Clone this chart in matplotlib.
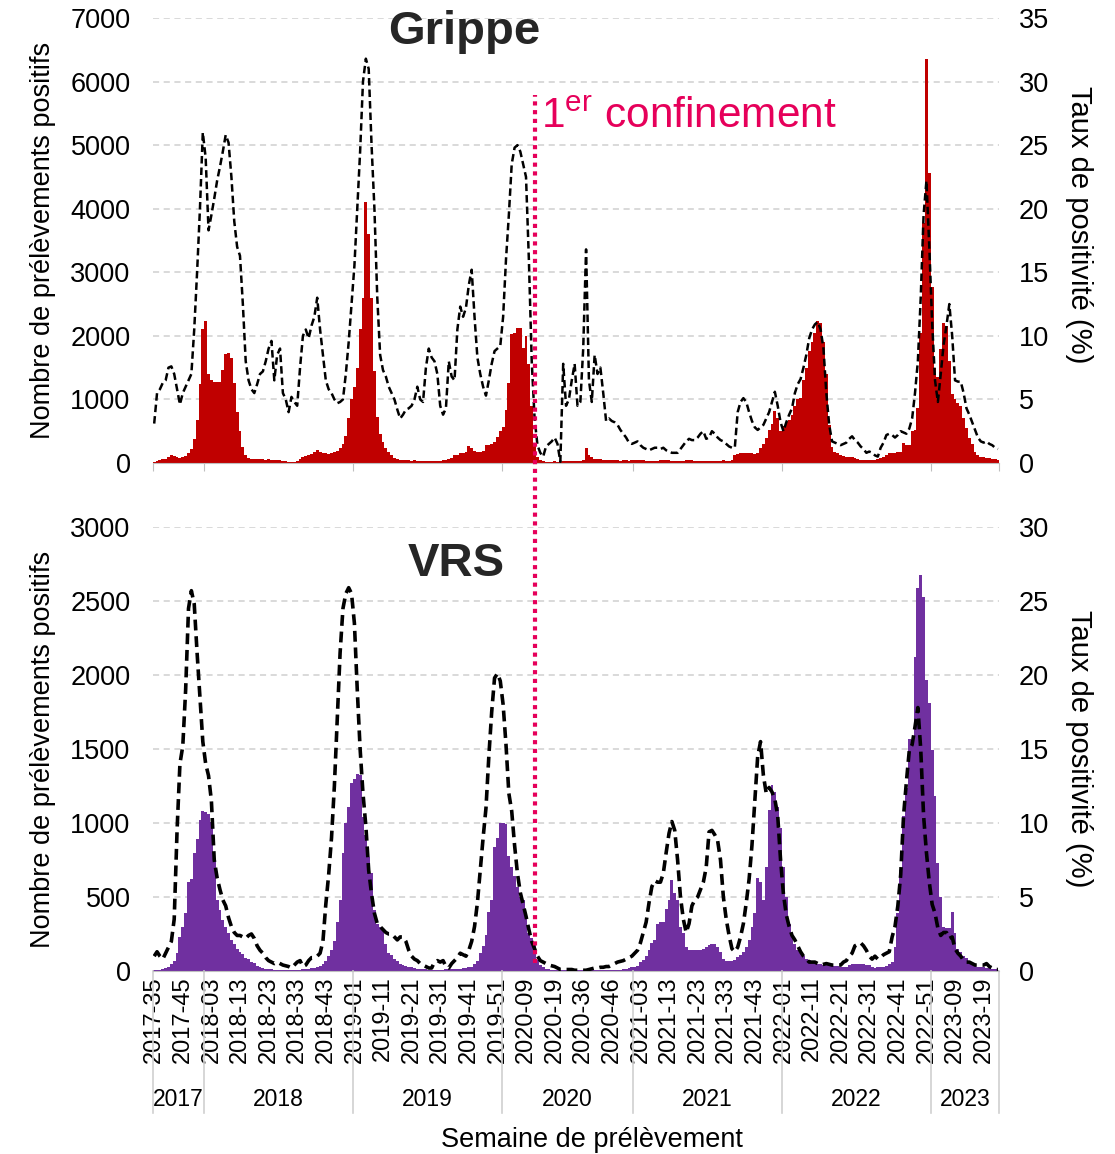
import matplotlib
matplotlib.use('Agg')
import matplotlib.pyplot as plt
import matplotlib.transforms as mtransforms
from matplotlib.lines import Line2D
import numpy as np

plt.rcParams['font.family'] = ['Liberation Sans', 'DejaVu Sans']
plt.rcParams['mathtext.fontset'] = 'custom'
plt.rcParams['mathtext.rm'] = 'Liberation Sans'

# semaines ISO présentes dans les données (2020-20 à 2020-26 absentes)
annees = [2017, 2018, 2019, 2020, 2021, 2022, 2023]
semaines_par_annee = [list(range(35, 53)), list(range(1, 53)), list(range(1, 53)),
                      list(range(1, 20)) + list(range(27, 54)),
                      list(range(1, 53)), list(range(1, 53)), list(range(1, 25))]

# Grippe : nombre de prélèvements positifs
grippe_cas = (
    [10, 30, 50, 60, 70, 100, 120, 110, 90, 80, 90, 110, 150, 220, 380, 680, 1250, 2100] +  # 2017
    [2230, 1400, 1300, 1280, 1280, 1280, 1470, 1720, 1730, 1650, 1260, 800,
     500, 250, 120, 80, 70, 60, 60, 55, 60, 50, 55, 50,
     45, 45, 40, 35, 30, 20, 15, 10, 30, 60, 90, 110,
     120, 140, 180, 200, 180, 160, 150, 140, 150, 170, 190, 230,
     300, 420, 700, 1000] +  # 2018
    [1200, 1500, 2100, 2600, 4100, 3600, 2600, 1450, 720, 450, 330, 230,
     180, 120, 80, 60, 50, 40, 40, 40, 30, 40, 30, 30,
     30, 35, 35, 35, 30, 30, 35, 40, 50, 60, 80, 120,
     130, 150, 160, 180, 260, 240, 190, 180, 180, 190, 280, 290,
     300, 330, 415, 500] +  # 2019
    [560, 840, 1260, 2030, 2050, 2120, 2120, 1810, 1995, 1550, 900, 300,
     100, 50, 30, 20, 15, 20, 25, 20, 15, 30, 25, 30,
     30, 35, 30, 35, 40, 240, 120, 90, 70, 60, 60, 50,
     50, 45, 40, 40, 40, 35, 40, 40, 35, 40] +  # 2020
    [40, 40, 45, 40, 35, 35, 35, 35, 30, 40, 40, 45,
     40, 35, 35, 30, 30, 35, 40, 40, 40, 35, 30, 35,
     30, 30, 30, 25, 30, 25, 30, 40, 35, 30, 40, 120,
     140, 150, 150, 160, 160, 150, 140, 160, 230, 300, 400, 520,
     620, 820, 700, 500] +  # 2021
    [580, 640, 680, 760, 900, 1000, 1030, 1300, 1500, 1760, 1900, 2050,
     2230, 2200, 1900, 1400, 600, 250, 180, 150, 120, 110, 100, 100,
     90, 80, 60, 50, 50, 40, 40, 40, 50, 60, 75, 90,
     130, 150, 150, 160, 170, 180, 310, 290, 290, 500, 520, 860,
     2050, 3780, 6360, 4560] +  # 2022
    [2770, 1500, 1360, 1800, 2200, 2150, 1600, 1080, 1000, 950, 900, 700,
     550, 400, 300, 180, 130, 100, 90, 80, 75, 70, 60, 40]  # 2023
)

# Grippe : taux de positivité (%)
grippe_taux = (
    [3.1, 5.5, 5.8, 6.3, 6.5, 7.5, 7.6, 7.0, 5.8, 4.6, 5.5, 6.0, 6.5, 7.0, 10.5, 15.0, 20.0, 26.0] +
    [24.0, 18.3, 19.5, 20.8, 22.2, 23.3, 24.5, 25.8, 25.2, 22.5, 19.0, 17.0,
     16.3, 12.5, 8.0, 6.5, 5.8, 5.5, 6.2, 7.0, 7.2, 8.0, 9.0, 9.6,
     6.5, 8.5, 9.0, 5.5, 5.0, 4.0, 5.2, 4.8, 4.5, 7.5, 10.0, 10.5,
     9.8, 10.8, 11.5, 13.0, 10.5, 8.5, 6.5, 5.8, 5.5, 5.0, 4.7, 4.8,
     5.0, 7.0, 9.5, 12.5] +
    [15.5, 20.0, 24.5, 30.0, 31.8, 31.0, 25.0, 20.0, 13.0, 8.5, 7.3, 6.8,
     6.0, 5.5, 5.0, 4.2, 3.5, 3.8, 4.2, 4.3, 4.5, 5.0, 6.0, 5.0,
     4.8, 7.5, 9.0, 8.3, 8.0, 7.0, 4.5, 3.8, 4.3, 8.0, 6.8, 6.5,
     10.5, 12.3, 11.5, 12.2, 14.0, 15.2, 11.5, 8.3, 7.0, 6.0, 5.3, 6.5,
     7.8, 8.8, 9.0, 9.2] +
    [11.5, 16.0, 19.5, 23.5, 24.8, 25.0, 24.5, 23.5, 22.5, 16.0, 8.0, 3.5,
     1.4, 0.8, 0.5, 1.3, 1.5, 1.7, 2.0, 1.5, 0.1, 7.8, 4.5, 5.0,
     6.5, 7.8, 4.5, 4.8, 9.0, 16.8, 6.5, 4.8, 8.5, 7.0, 7.5, 5.5,
     3.3, 3.5, 3.3, 3.2, 3.0, 2.6, 2.3, 2.0, 1.6, 1.5] +
    [1.6, 1.7, 1.4, 1.2, 1.1, 1.0, 1.1, 1.2, 1.2, 1.1, 1.2, 1.0,
     0.9, 0.8, 0.8, 0.8, 1.1, 1.4, 1.7, 1.9, 1.8, 1.8, 2.0, 2.3,
     2.5, 1.9, 2.0, 2.5, 2.3, 2.0, 1.8, 1.7, 1.5, 1.3, 1.2, 1.2,
     4.0, 4.8, 5.1, 4.8, 4.0, 3.3, 2.8, 2.6, 2.8, 3.0, 3.5, 4.0,
     4.8, 5.6, 4.5, 3.2] +
    [2.5, 3.2, 3.8, 4.3, 5.5, 6.2, 6.6, 7.5, 8.5, 9.8, 10.5, 10.9,
     11.1, 10.5, 9.0, 5.5, 3.0, 1.7, 1.6, 1.5, 1.4, 1.5, 1.6, 1.9,
     2.1, 1.8, 1.6, 1.3, 1.1, 0.8, 0.9, 0.8, 0.6, 0.5, 1.2, 1.6,
     2.2, 2.3, 2.2, 2.0, 2.2, 2.5, 2.4, 2.3, 2.7, 3.5, 5.5, 8.0,
     13.0, 19.5, 22.2, 17.0] +
    [11.0, 6.5, 4.8, 7.0, 9.3, 10.8, 12.5, 10.0, 6.5, 6.4, 6.4, 5.5,
     4.3, 3.8, 3.2, 2.6, 2.0, 1.7, 1.6, 1.7, 1.5, 1.4, 1.2, 1.1]
)

# VRS : nombre de prélèvements positifs
vrs_cas = (
    [5, 5, 8, 12, 20, 25, 50, 65, 120, 230, 300, 390, 600, 620, 795, 890, 1020, 1080] +
    [1075, 1060, 1010, 750, 480, 410, 345, 300, 255, 210, 180, 150,
     125, 115, 90, 80, 60, 55, 35, 30, 20, 15, 10, 10,
     8, 8, 7, 6, 6, 5, 5, 5, 6, 8, 10, 12,
     15, 18, 20, 25, 35, 45, 70, 100, 140, 200, 330, 480,
     795, 1000, 1110, 1270] +
    [1300, 1330, 1325, 1040, 920, 770, 660, 410, 320, 300, 280, 180,
     120, 110, 80, 70, 50, 40, 35, 30, 25, 20, 15, 15,
     10, 10, 8, 8, 8, 8, 8, 8, 10, 10, 10, 12,
     15, 15, 18, 20, 25, 30, 50, 70, 120, 170, 245, 400,
     480, 840, 900, 1000] +
    [1000, 990, 780, 705, 640, 570, 500, 480, 370, 255, 220, 185,
     75, 40, 25, 15, 10, 8, 6, 5, 5, 5, 4, 4,
     4, 4, 4, 4, 4, 4, 4, 5, 5, 5, 5, 5,
     5, 6, 6, 6, 8, 8, 10, 15, 20, 25] +
    [30, 35, 60, 75, 100, 140, 190, 210, 320, 330, 330, 420,
     480, 615, 530, 480, 300, 255, 165, 140, 140, 140, 140, 140,
     150, 160, 175, 180, 185, 165, 130, 80, 70, 65, 70, 75,
     95, 110, 130, 160, 210, 300, 390, 625, 600, 480, 705, 1090,
     1255, 1210, 1110, 965] +
    [705, 500, 320, 230, 185, 140, 120, 100, 80, 75, 65, 60,
     50, 45, 40, 40, 40, 35, 35, 35, 30, 30, 30, 40,
     45, 50, 50, 50, 45, 40, 40, 25, 20, 25, 30, 30,
     35, 50, 60, 165, 390, 680, 1050, 1235, 1570, 1560, 2120, 2585,
     2675, 2530, 1965, 1810] +
    [1495, 1180, 730, 500, 300, 290, 290, 400, 255, 150, 130, 100,
     90, 60, 50, 40, 30, 30, 25, 20, 20, 15, 10, 5]
)

# VRS : taux de positivité (%)
vrs_taux = (
    [1.0, 1.3, 1.0, 0.8, 1.2, 1.6, 2.0, 3.5, 9.5, 14.0, 15.2, 19.0, 24.5, 25.7, 24.8, 21.5, 18.5, 15.5] +
    [14.0, 13.2, 11.5, 7.5, 6.3, 5.5, 4.8, 4.4, 3.6, 3.0, 2.6, 2.4,
     2.4, 2.3, 2.2, 2.4, 2.5, 2.2, 1.7, 1.4, 1.2, 0.9, 0.7, 0.6,
     0.5, 0.6, 0.5, 0.4, 0.35, 0.3, 0.2, 0.4, 0.6, 0.7, 0.3, 0.4,
     0.7, 0.9, 0.9, 1.0, 1.2, 2.0, 4.5, 6.5, 9.0, 12.5, 17.0, 21.5,
     24.5, 25.5, 25.9, 25.5] +
    [23.5, 19.0, 15.0, 12.0, 9.8, 6.8, 5.2, 3.9, 3.2, 3.0, 2.8, 2.6,
     2.5, 2.5, 2.3, 2.1, 2.3, 2.3, 2.0, 1.4, 1.0, 0.8, 0.7, 0.5,
     0.4, 0.3, 0.2, 0.2, 0.6, 0.7, 0.6, 0.7, 0.3, 0.2, 0.5, 0.7,
     0.9, 1.2, 1.1, 1.0, 1.4, 2.0, 3.0, 4.6, 6.8, 9.0, 11.0, 14.5,
     17.5, 19.8, 20.1, 19.6] +
    [18.0, 15.3, 12.0, 10.8, 8.5, 6.6, 5.3, 4.5, 3.7, 2.8, 2.0, 1.5,
     1.0, 0.7, 0.6, 0.5, 0.4, 0.35, 0.3, 0.2, 0.1, 0.1, 0.1, 0.1,
     0.1, 0.05, 0.05, 0.05, 0.05, 0.05, 0.1, 0.15, 0.2, 0.2, 0.25, 0.25,
     0.3, 0.3, 0.4, 0.5, 0.6, 0.65, 0.7, 0.8, 0.9, 1.0] +
    [1.2, 1.4, 1.9, 2.6, 3.3, 4.6, 5.7, 6.1, 6.0, 6.0, 6.6, 8.0,
     9.3, 10.1, 9.5, 7.5, 5.0, 3.5, 2.6, 3.2, 4.4, 4.8, 5.0, 5.5,
     6.0, 7.0, 9.4, 9.5, 9.2, 8.8, 7.5, 5.0, 3.5, 2.4, 1.5, 1.3,
     1.6, 2.3, 3.2, 4.6, 6.2, 8.5, 11.5, 14.5, 15.5, 13.2, 12.0, 12.4,
     12.1, 11.6, 10.5, 7.5] +
    [5.2, 3.8, 3.0, 2.4, 2.1, 1.7, 1.3, 1.0, 0.8, 0.6, 0.6, 0.6,
     0.5, 0.4, 0.45, 0.5, 0.45, 0.4, 0.4, 0.4, 0.4, 0.6, 0.7, 1.0,
     1.2, 1.7, 1.8, 1.9, 1.7, 1.4, 1.0, 0.8, 1.0, 0.8, 0.9, 1.1,
     1.2, 1.3, 2.3, 3.0, 4.4, 6.5, 10.5, 12.8, 14.9, 15.3, 16.5, 17.8,
     15.0, 10.5, 8.0, 6.0] +
    [4.5, 3.9, 2.9, 2.4, 2.6, 2.6, 2.2, 2.3, 1.5, 1.2, 1.0, 0.7,
     0.6, 0.6, 0.5, 0.4, 0.4, 0.4, 0.4, 0.5, 0.3, 0.2, 0.1, 0.1]
)

# étiquettes des semaines
semaines = []
debut_annee = []
for an, sem in zip(annees, semaines_par_annee):
    debut_annee.append(len(semaines))
    semaines += ['%d-%02d' % (an, s) for s in sem]
x = np.arange(len(semaines))
n = len(semaines)

rouge = '#C00000'
violet = '#7030A0'
rose = '#E6005A'
gris = '#D0D0D0'

fig = plt.figure(figsize=(11.15, 11.54), dpi=100)
ax1 = fig.add_axes([0.1370, 0.5988, 0.7593, 0.3856])
ax2 = fig.add_axes([0.1370, 0.1586, 0.7593, 0.3847])

panneaux = [(ax1, grippe_cas, grippe_taux, rouge, 7000, 1000, 35, 1.8, 0.535),
            (ax2, vrs_cas, vrs_taux, violet, 3000, 500, 30, 2.6, 0.5)]

for ax, cas, taux, coul, ymax, pas, tmax, lw, ylab in panneaux:
    ax.bar(x, cas, width=1.0, color=coul, linewidth=0, zorder=2)
    ax.set_xlim(-0.5, n - 0.5)
    ax.set_ylim(0, ymax)
    ax.set_yticks(np.arange(0, ymax + 1, pas))
    ax.yaxis.grid(True, color=gris, linestyle=(0, (4, 3)), linewidth=1.1)
    ax.set_axisbelow(True)
    ax.tick_params(axis='y', length=0, pad=16, labelsize=19.5)
    for s in ['left', 'right', 'top']:
        ax.spines[s].set_visible(False)
    ax.spines['bottom'].set_color('#BFBFBF')
    ax.set_ylabel('Nombre de prélèvements positifs', fontsize=19.5, labelpad=10)

    axr = ax.twinx()
    axr.plot(x, taux, color='black', linestyle=(0, (3, 1.6)), linewidth=lw)
    axr.set_ylim(0, tmax)
    axr.set_yticks(np.arange(0, tmax + 1, 5))
    axr.tick_params(axis='y', length=0, pad=14, labelsize=19.5)
    for s in axr.spines.values():
        s.set_visible(False)
    axr.set_ylabel('Taux de positivité (%)', fontsize=21, rotation=270,
                   va='center', ha='center')
    axr.yaxis.set_label_coords(1.094, ylab)

# axe du haut : petites graduations aux changements d'année
bornes = [d - 0.5 for d in debut_annee] + [n - 0.5]
ax1.set_xticks(bornes)
ax1.tick_params(axis='x', length=6, color='#BFBFBF', labelbottom=False)

# axe du bas : une étiquette toutes les 10 semaines
ax2.set_xticks(x[::10])
ax2.set_xticklabels(semaines[::10], rotation=90, fontsize=17)
ax2.tick_params(axis='x', length=0, pad=4)

trans = mtransforms.blended_transform_factory(ax2.transData, ax2.transAxes)
for b in bornes:
    ax2.add_line(Line2D([b, b], [0, -0.32], transform=trans, color='#D0D0D0',
                        linewidth=1.2, clip_on=False))
for i, an in enumerate(annees):
    fin = bornes[i + 1]
    ax2.text((bornes[i] + fin) / 2, -0.29, str(an), transform=trans,
             ha='center', va='center', fontsize=16.5)

fig.text(0.531, 0.012, 'Semaine de prélèvement', ha='center', va='center', fontsize=19.5)

fig.text(0.416, 0.972, 'Grippe', ha='center', va='center', fontsize=34,
         fontweight='bold', color='#262626')
fig.text(0.409, 0.511, 'VRS', ha='center', va='center', fontsize=34,
         fontweight='bold', color='#262626')

# 1er confinement (semaine 2020-12)
xc = semaines.index('2020-12') + 0.3
xfig = fig.transFigure.inverted().transform(ax1.transData.transform((xc, 0)))[0]
fig.add_artist(Line2D([xfig, xfig], [1 - 963 / 1154, 1 - 95 / 1154],
                      transform=fig.transFigure, color=rose, linewidth=3,
                      linestyle=(0, (1, 1.1))))
fig.text(xfig + 0.005, 1 - 117 / 1154, r'1$^{\mathrm{er}}$ confinement',
         color=rose, fontsize=30.5, ha='left', va='center')

fig.savefig('out.png', dpi=100)
